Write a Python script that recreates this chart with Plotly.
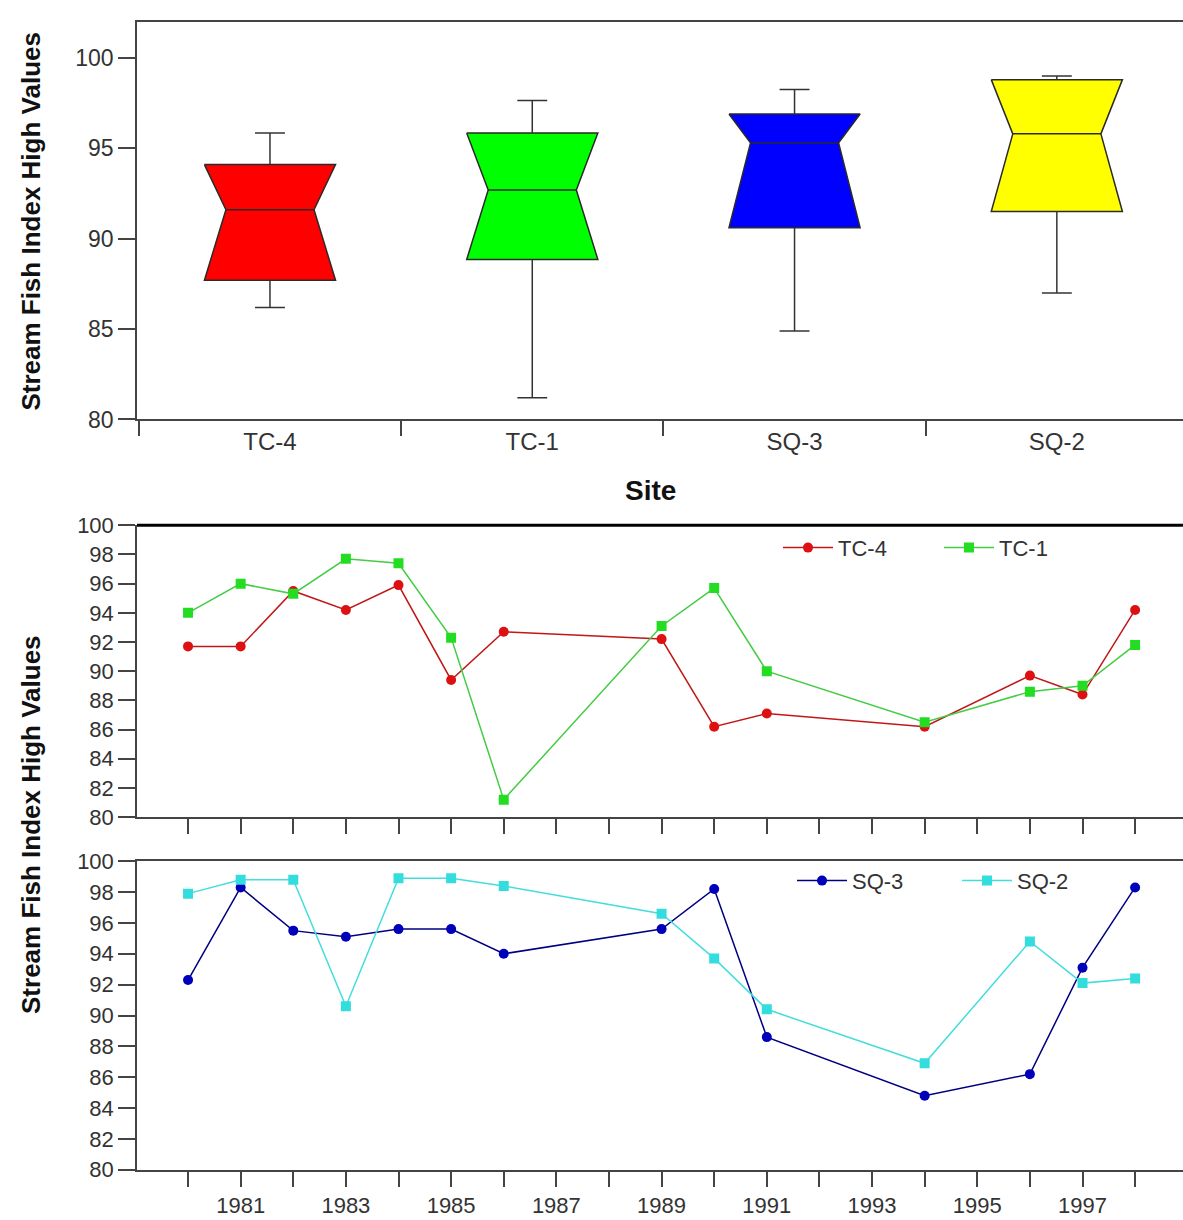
import plotly.graph_objects as go

# ---------------- data ----------------
sites = ["TC-4", "TC-1", "SQ-3", "SQ-2"]
box_hi = [95.85, 97.65, 98.25, 99.0]
box_q3 = [94.1, 95.85, 96.9, 98.8]
box_med = [91.6, 92.7, 95.3, 95.8]
box_q1 = [87.7, 88.85, 90.6, 91.5]
box_lo = [86.2, 81.2, 84.9, 87.0]
box_colors = ["#ff0000", "#00ff00", "#0000ff", "#ffff00"]

years = [1980, 1981, 1982, 1983, 1984, 1985, 1986, 1989, 1990, 1991, 1994, 1996, 1997, 1998]
tc4 = [91.7, 91.7, 95.5, 94.2, 95.9, 89.4, 92.7, 92.2, 86.2, 87.1, 86.2, 89.7, 88.4, 94.2]
tc1 = [94.0, 96.0, 95.3, 97.7, 97.4, 92.3, 81.2, 93.1, 95.7, 90.0, 86.5, 88.6, 89.0, 91.8]
sq3 = [92.3, 98.3, 95.5, 95.1, 95.6, 95.6, 94.0, 95.6, 98.2, 88.6, 84.8, 86.2, 93.1, 98.3]
sq2 = [97.9, 98.8, 98.8, 90.6, 98.9, 98.9, 98.4, 96.6, 93.7, 90.4, 86.9, 94.8, 92.1, 92.4]

tick_years = list(range(1980, 1999))
tick_year_text = [str(y) if y % 2 == 1 else "" for y in tick_years]

# ---------------- style ----------------
FONT = "Liberation Sans, Arial, sans-serif"
AX = "#444444"
TXT = "#333333"
W, H = 1183, 1220
ML = 137

box_half = 0.25
notch_half = 0.168
cap_half = 0.057

fig = go.Figure()

# ---- notched boxes (top panel) ----
wx, wy = [], []
for i, s in enumerate(sites):
    xs = [i - box_half, i + box_half, i + notch_half, i + box_half, i - box_half, i - notch_half, i - box_half]
    ys = [box_q3[i], box_q3[i], box_med[i], box_q1[i], box_q1[i], box_med[i], box_q3[i]]
    fig.add_trace(go.Scatter(x=xs, y=ys, mode="lines", fill="toself", fillcolor=box_colors[i],
                             line=dict(color="#2a2a2a", width=1.5), showlegend=False,
                             xaxis="x", yaxis="y", hoverinfo="skip"))
    fig.add_trace(go.Scatter(x=[i - notch_half, i + notch_half], y=[box_med[i], box_med[i]], mode="lines",
                             line=dict(color="#2a2a2a", width=1.5), showlegend=False,
                             xaxis="x", yaxis="y", hoverinfo="skip"))
    wx += [i, i, None, i - cap_half, i + cap_half, None, i, i, None, i - cap_half, i + cap_half, None]
    wy += [box_q3[i], box_hi[i], None, box_hi[i], box_hi[i], None,
           box_q1[i], box_lo[i], None, box_lo[i], box_lo[i], None]
fig.add_trace(go.Scatter(x=wx, y=wy, mode="lines", line=dict(color="#333333", width=1.5),
                         showlegend=False, xaxis="x", yaxis="y", hoverinfo="skip"))

# ---- time series ----
def series(name, ys, lc, mc, sym, ax, ay, leg):
    fig.add_trace(go.Scatter(x=years, y=ys, name=name, mode="lines+markers",
                             line=dict(color=lc, width=1.5),
                             marker=dict(color=mc, symbol=sym, size=10, line=dict(width=0)),
                             xaxis=ax, yaxis=ay, legend=leg))

series("TC-4", tc4, "#c01818", "#dd1111", "circle", "x2", "y2", "legend")
series("TC-1", tc1, "#44cc44", "#22dd22", "square", "x2", "y2", "legend")
series("SQ-3", sq3, "#000080", "#0000bb", "circle", "x3", "y3", "legend2")
series("SQ-2", sq2, "#44dddd", "#33dddd", "square", "x3", "y3", "legend2")

# ---------------- layout ----------------
def py(p):  # pixel from top -> paper y
    return 1 - p / H

def px(p):  # pixel from left -> paper x
    return (p - ML) / (W - ML)

tickfont = dict(family=FONT, size=23, color=TXT)
catfont = dict(family=FONT, size=24, color=TXT)
tickfont2 = dict(family=FONT, size=22, color=TXT)

xr = [1979.03, 1998.91]

fig.update_layout(
    width=W, height=H,
    margin=dict(l=ML, r=0, t=0, b=0),
    paper_bgcolor="white", plot_bgcolor="white",
    font=dict(family=FONT, color=TXT),
    xaxis=dict(domain=[0, 1], range=[-0.507, 3.481], anchor="y",
               tickmode="array", tickvals=[0, 1, 2, 3], ticktext=sites, ticks="",
               tickfont=catfont, showgrid=False, zeroline=False,
               showline=True, linecolor=AX, linewidth=1.5, mirror=True,
               minor=dict(tickmode="array", tickvals=[-0.5, 0.5, 1.5, 2.5], ticks="outside",
                          ticklen=15, tickwidth=1.5, tickcolor=AX, showgrid=False)),
    yaxis=dict(domain=[py(416), py(10)], range=[80, 102], anchor="x",
               tickmode="array", tickvals=[80, 85, 90, 95, 100],
               ticks="outside", ticklen=17, tickwidth=1.5, tickcolor=AX,
               tickfont=tickfont, showgrid=False, zeroline=False,
               showline=True, linecolor=AX, linewidth=1.5),
    xaxis2=dict(domain=[0, 1], range=xr, anchor="y2",
                tickmode="array", tickvals=tick_years, showticklabels=False,
                ticks="outside", ticklen=15, tickwidth=1.5, tickcolor=AX,
                showgrid=False, zeroline=False, showline=True, linecolor=AX, linewidth=1.5),
    yaxis2=dict(domain=[py(822), py(524)], range=[80, 100], anchor="x2",
                tickmode="array", tickvals=list(range(80, 101, 2)),
                ticks="outside", ticklen=17, tickwidth=1.5, tickcolor=AX,
                tickfont=tickfont2, showgrid=False, zeroline=False,
                showline=True, linecolor=AX, linewidth=1.5),
    xaxis3=dict(domain=[0, 1], range=xr, anchor="y3",
                tickmode="array", tickvals=tick_years, ticktext=tick_year_text,
                ticks="outside", ticklen=15, tickwidth=1.5, tickcolor=AX,
                tickfont=tickfont2, showgrid=False, zeroline=False,
                showline=True, linecolor=AX, linewidth=1.5, mirror=True),
    yaxis3=dict(domain=[py(1182), py(867)], range=[80, 100], anchor="x3",
                tickmode="array", tickvals=list(range(80, 101, 2)),
                ticks="outside", ticklen=17, tickwidth=1.5, tickcolor=AX,
                tickfont=tickfont2, showgrid=False, zeroline=False,
                showline=True, linecolor=AX, linewidth=1.5),
    legend=dict(orientation="h", x=px(778), y=py(547), xanchor="left", yanchor="middle",
                font=dict(family=FONT, size=22, color=TXT), entrywidth=96, itemwidth=50,
                bgcolor="rgba(0,0,0,0)"),
    legend2=dict(orientation="h", x=px(792), y=py(887), xanchor="left", yanchor="middle",
                 font=dict(family=FONT, size=22, color=TXT), entrywidth=100, itemwidth=50,
                 bgcolor="rgba(0,0,0,0)"),
    shapes=[dict(type="line", xref="x2 domain", yref="y2 domain", x0=0, x1=1, y0=1, y1=1,
                 line=dict(color="#000000", width=3))],
    annotations=[
        dict(text="<b>Site</b>", xref="paper", yref="paper", x=px(650), y=py(488),
             showarrow=False, font=dict(family=FONT, size=28, color="#111111"),
             xanchor="center", yanchor="middle"),
        dict(text="<b>Stream Fish Index High Values</b>", xref="paper", yref="paper",
             x=px(31), y=py(214), textangle=-90, showarrow=False,
             font=dict(family=FONT, size=26, color="#111111"),
             xanchor="center", yanchor="middle"),
        dict(text="<b>Stream Fish Index High Values</b>", xref="paper", yref="paper",
             x=px(31), y=py(830), textangle=-90, showarrow=False,
             font=dict(family=FONT, size=26, color="#111111"),
             xanchor="center", yanchor="middle"),
    ],
)

post = ("document.documentElement.style.overflow='hidden';"
        "document.body.style.margin='0';document.body.style.overflow='hidden';"
        "var d=document.getElementById('{plot_id}');"
        "d.style.position='absolute';d.style.left='0px';d.style.top='0px';")

fig.write_html("out.html", config={"displayModeBar": False}, post_script=post)
